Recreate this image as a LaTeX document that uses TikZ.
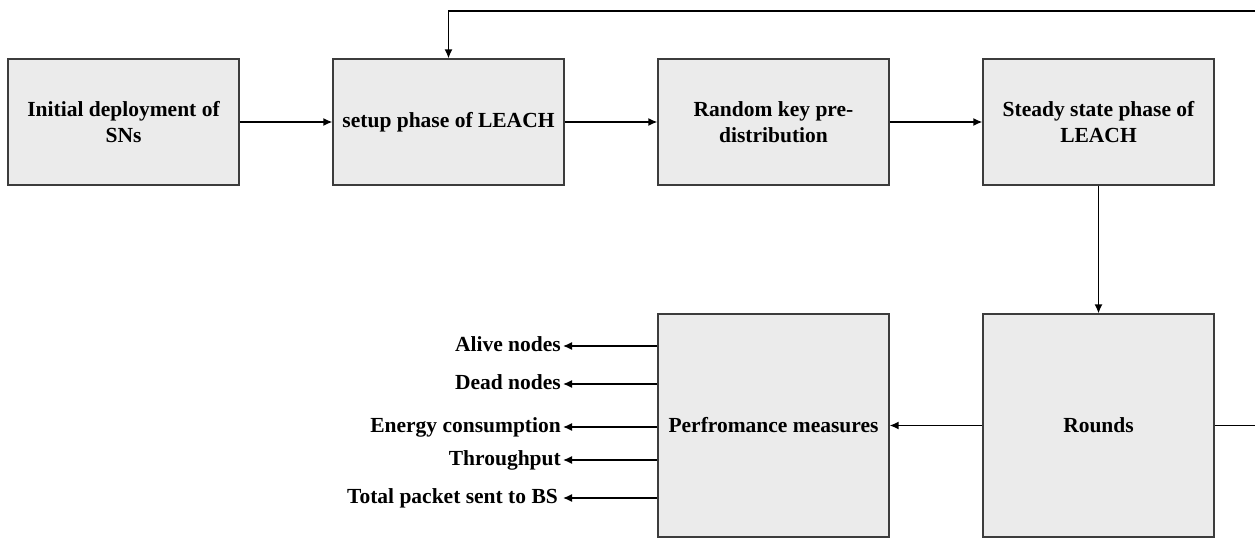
\documentclass[tikz,border=0pt]{standalone}
\usepackage{fontspec}
\setmainfont{Liberation Serif}
\usetikzlibrary{arrows.meta}
\definecolor{boxfill}{HTML}{EBEBEB}
\definecolor{boxborder}{HTML}{3C3C3C}
\begin{document}
\begin{tikzpicture}[x=1pt,y=-1pt,
  blk/.style={draw=boxborder, fill=boxfill, line width=1.3pt, minimum width=231pt,
    minimum height=126pt, align=center, inner sep=0pt,
    font=\fontsize{21.5}{25.5}\selectfont\bfseries},
  tall/.style={minimum height=223pt},
  lbl/.style={anchor=east, inner xsep=2pt, inner ysep=0pt, text height=15pt, text depth=4pt,
    font=\fontsize{21.5}{25.5}\selectfont\bfseries},
  arr/.style={line width=1.4pt, -{Latex[length=9pt,width=8pt]}}]
\useasboundingbox (0,0) rectangle (1255,538);
\node[blk] (init) at (123.5,122) {Initial deployment of\\SNs};
\node[blk] (setup) at (448.5,122) {setup phase of LEACH};
\node[blk] (rkp) at (773.5,122) {Random key pre-\\distribution};
\node[blk] (steady) at (1098.5,122) {Steady state phase of\\LEACH};
\node[blk,tall] (rounds) at (1098.5,425.5) {Rounds};
\node[blk,tall] (perf) at (773.5,425.5) {Perfromance measures};

\draw[arr] (init) -- (setup);
\draw[arr] (setup) -- (rkp);
\draw[arr] (rkp) -- (steady);
\draw[arr] (steady) -- (rounds);
\draw[arr] (rounds) -- (perf);

\coordinate (fbR) at (1260,425.5);
\coordinate (fbT) at (1260,11);
\draw[arr] (rounds.east) -- (fbR) -- (fbT) -- (setup.north |- fbT) -- (setup.north);

\node[lbl] (alive) at (563,346) {Alive nodes};
\node[lbl] (dead) at (563,384) {Dead nodes};
\node[lbl] (energy) at (563,427) {Energy consumption};
\node[lbl] (thru) at (563,460) {Throughput};
\node[lbl, inner xsep=5pt] (total) at (563,498) {Total packet sent to BS};

\foreach \n in {alive,dead,energy,thru,total}
  \draw[arr] (perf.west |- \n.east) -- (\n.east);
\end{tikzpicture}
\end{document}
